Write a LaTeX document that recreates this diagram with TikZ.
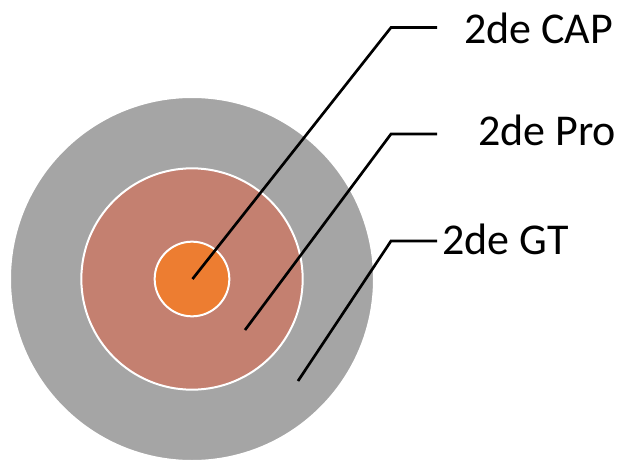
\documentclass[tikz,border=0pt]{standalone}
\usepackage{fontspec}
\setmainfont{Carlito}
\usetikzlibrary{calc}
\definecolor{gtgrey}{HTML}{A5A5A5}
\definecolor{prosalmon}{HTML}{C48070}
\definecolor{caporange}{HTML}{ED7D31}
\tikzset{ring/.style={circle, draw=white, line width=1.5pt, inner sep=0pt}}
\tikzset{lab/.style={anchor=base west, inner sep=0pt, font=\fontsize{33}{40}\selectfont}}
\tikzset{leader/.style={line width=2pt}}

\begin{document}
\begin{tikzpicture}[x=0.75pt,y=-0.75pt]
  \useasboundingbox (0,0) rectangle (624,460);
  \foreach \name/\col/\diam in {
    gt/gtgrey/273pt,
    pro/prosalmon/166pt,
    cap/caporange/56pt%
  } {
    \node[ring, fill=\col, minimum size=\diam] (\name) at (192,279) {};
  }
  \foreach \x/\y/\name/\lab in {
    464/44/capl/2de CAP,
    478/145/prol/2de Pro,
    442/254/gtl/2de GT%
  } {
    \node[lab] (\name) at (\x,\y) {\lab};
  }
  \foreach \s/\sx/\sy/\ky in {
    cap/192.5/279/27.5,
    pro/245/330/134,
    gt/298/381/241%
  } {
    \coordinate (\s-a) at (\sx,\sy);
    \coordinate (\s-b) at (391,\ky);
    \coordinate (\s-c) at (437,\ky);
    \draw[leader] (\s-a) -- (\s-b) -- (\s-c);
  }
\end{tikzpicture}
\end{document}
